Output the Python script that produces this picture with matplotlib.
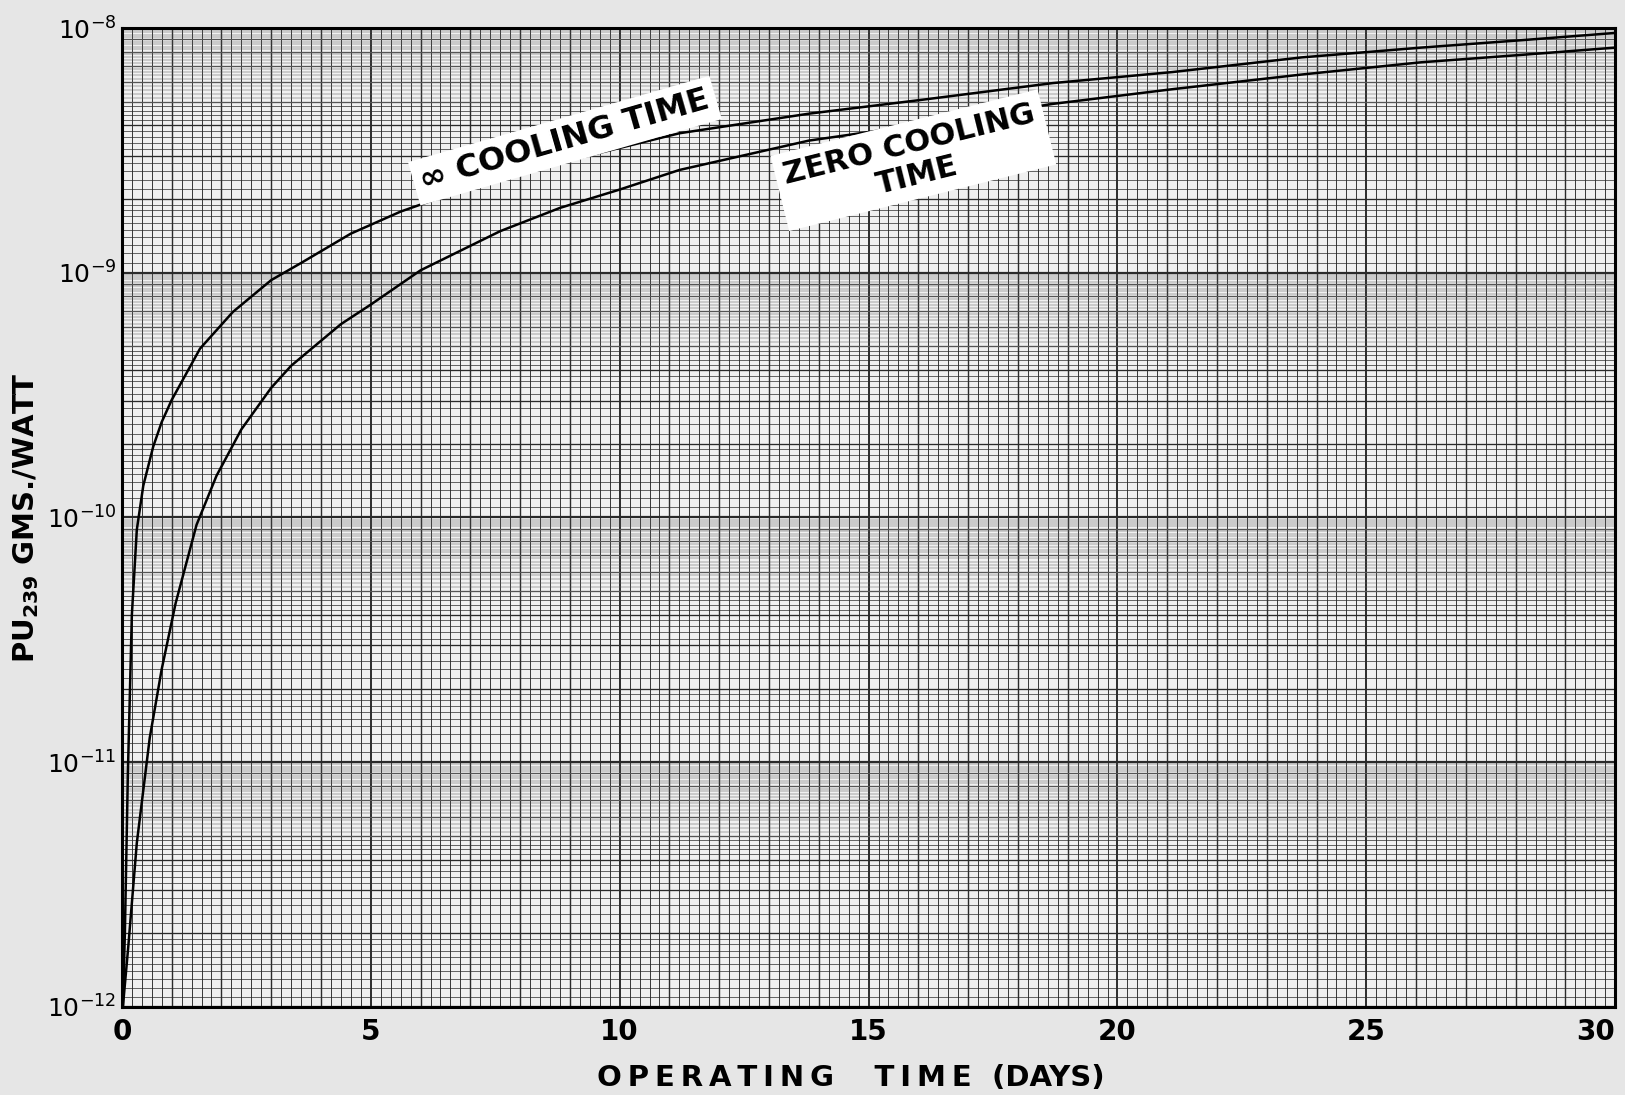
import numpy as np
import matplotlib.pyplot as plt
from matplotlib.ticker import FixedLocator, NullFormatter

# operating time (days) and log10(Pu239 gms/watt)
inf_days = [0.02, 0.06, 0.12, 0.2, 0.3, 0.43, 0.63, 0.8, 1.0, 1.57, 2.23, 3.0, 3.6, 4.6, 5.6, 7.0, 8.8, 11.2, 13.8, 16.2, 18.7, 21.1, 23.7, 26.1, 28.1, 30]
inf_log = [-12, -11.7, -11.05, -10.4, -10.05, -9.87, -9.71, -9.61, -9.52, -9.31, -9.16, -9.03, -8.96, -8.84, -8.75, -8.65, -8.55, -8.43, -8.35, -8.29, -8.225, -8.18, -8.12, -8.08, -8.05, -8.02]

zero_days = [0.02, 0.13, 0.3, 0.56, 0.8, 1.08, 1.5, 1.9, 2.4, 3.0, 3.4, 4.4, 5.0, 6.0, 7.6, 8.8, 10.0, 11.2, 13.8, 16.2, 18.7, 21.1, 23.7, 26.1, 28.1, 30]
zero_log = [-12, -11.75, -11.33, -10.9, -10.62, -10.35, -10.03, -9.83, -9.64, -9.47, -9.38, -9.21, -9.13, -8.99, -8.83, -8.735, -8.66, -8.58, -8.46, -8.39, -8.31, -8.25, -8.19, -8.14, -8.11, -8.08]

x_ticks = [0, 5, 10, 15, 20, 25, 30]
y_ticks = [1e-12, 1e-11, 1e-10, 1e-9, 1e-8]
y_labels = ["$\\mathregular{10^{-12}}$", "$\\mathregular{10^{-11}}$", "$\\mathregular{10^{-10}}$",
            "$\\mathregular{10^{-9}}$", "$\\mathregular{10^{-8}}$"]

paper = "#e6e6e6"
ink = "#2a2a2a"
fig = plt.figure(figsize=(16.25, 10.95), dpi=100, facecolor=paper)
ax = fig.add_axes([0.075, 0.0804, 0.919, 0.894])
ax.set_facecolor("#f0f0f0")
ax.set_yscale("log")
ax.set_xlim(0, 30)
ax.set_ylim(1e-12, 1e-8)

# graph paper rulings
for d in np.arange(0, 30.01, 0.2):
    if abs(d - round(d)) < 1e-6:
        lw = 1.4 if round(d) % 5 == 0 else 1.0
    else:
        lw = 0.65
    ax.axvline(d, color=ink, lw=lw, zorder=1)
coarse = np.concatenate([np.arange(1, 2, 0.1), np.arange(2, 5, 0.2)])
dense = np.arange(5, 10, 0.2)
for dec in range(-12, -8):
    for m in coarse:
        lw = 1.6 if abs(m - 1) < 1e-6 else (0.95 if abs(m - round(m)) < 1e-6 else 0.5)
        ax.axhline(m * 10.0**dec, color=ink, lw=lw, zorder=1)
    for m in dense:
        lw = 0.95 if abs(m - round(m)) < 1e-6 else 0.35
        ax.axhline(m * 10.0**dec, color="#555555", lw=lw, zorder=1)

ax.plot(inf_days, 10.0**np.array(inf_log), color="black", lw=1.8, zorder=3)
ax.plot(zero_days, 10.0**np.array(zero_log), color="black", lw=1.8, zorder=3)

ax.text(8.9, 10**-8.46, "\u221e COOLING TIME", rotation=16, ha="center", va="center",
        fontsize=23, fontweight="bold", family="DejaVu Sans", zorder=5,
        bbox=dict(boxstyle="square,pad=0.22", fc="white", ec="none"))
ax.text(15.9, 10**-8.54, "ZERO COOLING\nTIME", rotation=14, ha="center", va="center",
        fontsize=22, fontweight="bold", family="DejaVu Sans", linespacing=1.1,
        multialignment="center", zorder=5,
        bbox=dict(boxstyle="square,pad=0.28", fc="white", ec="none"))

for s in ax.spines.values():
    s.set_linewidth(2.2)
ax.xaxis.set_major_locator(FixedLocator(x_ticks))
ax.yaxis.set_major_locator(FixedLocator(y_ticks))
ax.yaxis.set_minor_locator(FixedLocator([]))
ax.yaxis.set_minor_formatter(NullFormatter())
ax.set_yticklabels(y_labels)
ax.tick_params(axis="both", which="both", length=0)
ax.tick_params(axis="x", pad=8, labelsize=20)
ax.tick_params(axis="y", pad=4, labelsize=18)
for t in ax.get_xticklabels():
    t.set_fontweight("bold")
ax.get_xticklabels()[-1].set_horizontalalignment("right")

ts = "\u2009"
ax.set_xlabel(ts.join("OPERATING") + "    " + ts.join("TIME") + "  (DAYS)",
              fontsize=21, fontweight="bold")
ax.xaxis.set_label_coords(0.488, -0.0725)
ax.xaxis.label.set_va("center")
ax.set_ylabel("$\\mathregular{PU_{239}}$ GMS./WATT", fontsize=21, fontweight="bold")
ax.yaxis.set_label_coords(-0.064, 0.5)
ax.yaxis.label.set_va("center")

plt.savefig("out.png", dpi=100, facecolor=paper)
